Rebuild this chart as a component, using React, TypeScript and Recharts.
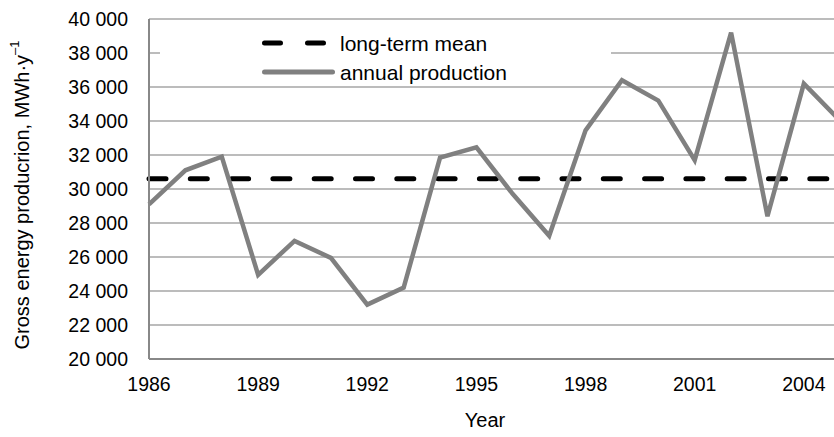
import { LineChart, Line, XAxis, YAxis, CartesianGrid, Legend } from 'recharts'

const YEARS = [
  1986, 1987, 1988, 1989, 1990, 1991, 1992, 1993, 1994, 1995,
  1996, 1997, 1998, 1999, 2000, 2001, 2002, 2003, 2004, 2005,
]
const PRODUCTION = [
  29100, 31100, 31900, 24950, 26950, 25950, 23200, 24200, 31850, 32450,
  29700, 27250, 33450, 36400, 35200, 31700, 39200, 28400, 36200, 34000,
]
const LONG_TERM_MEAN = 30600
const X_TICKS = [1986, 1989, 1992, 1995, 1998, 2001, 2004]
const Y_TICKS = [20000, 22000, 24000, 26000, 28000, 30000, 32000, 34000, 36000, 38000, 40000]
const LEGEND_MEAN = 'long-term mean'
const LEGEND_PRODUCTION = 'annual production'

const FONT = '"Liberation Sans", Arial, sans-serif'
const GREY = '#808080'

const dados = YEARS.map((year, i) => ({
  year,
  production: PRODUCTION[i],
  mean: LONG_TERM_MEAN,
}))

const fmtThousands = (v: number) =>
  `${Math.floor(v / 1000)} ${String(v % 1000).padStart(3, '0')}`

// legend sits on a white box over the top gridlines, like the original
function LegendBox() {
  return (
    <svg width={451} height={56} style={{ display: 'block', background: '#fff' }}>
      <line x1={104.5} y1={13} x2={163.5} y2={13} stroke="#000" strokeWidth={5}
        strokeDasharray="16 27" strokeLinecap="round" />
      <text x={180} y={13} dominantBaseline="central" fontSize={21} fontFamily={FONT} fill="#000">
        {LEGEND_MEAN}
      </text>
      <line x1={104.5} y1={42} x2={172.5} y2={42} stroke={GREY} strokeWidth={5} strokeLinecap="round" />
      <text x={180} y={42} dominantBaseline="central" fontSize={21} fontFamily={FONT} fill="#000">
        {LEGEND_PRODUCTION}
      </text>
    </svg>
  )
}

export default function App() {
  return (
    <div
      style={{
        position: 'absolute',
        left: 0,
        top: 0,
        width: 834,
        height: 437,
        overflow: 'hidden',
        background: '#fff',
      }}
    >
      <LineChart width={914} height={437} data={dados} margin={{ top: 19, right: 1, bottom: 0, left: 0 }}>
        <CartesianGrid vertical={false} stroke="#a6a6a6" strokeWidth={1.5} />
        <XAxis
          dataKey="year"
          type="number"
          domain={[1986, 2007]}
          ticks={X_TICKS}
          height={78}
          tickLine={false}
          tickSize={0}
          tickMargin={18}
          axisLine={{ stroke: '#888', strokeWidth: 2 }}
          tick={{ fontSize: 19.5, fontFamily: FONT, fill: '#000' }}
          interval={0}
        />
        <YAxis
          type="number"
          domain={[20000, 40000]}
          ticks={Y_TICKS}
          width={149}
          tickLine={false}
          tickSize={0}
          tickMargin={21}
          axisLine={{ stroke: '#888', strokeWidth: 2 }}
          tick={{ fontSize: 19.5, fontFamily: FONT, fill: '#000' }}
          tickFormatter={fmtThousands}
          interval={0}
        />
        <Legend
          layout="vertical"
          align="center"
          verticalAlign="middle"
          content={() => <LegendBox />}
          wrapperStyle={{ left: 160, top: 30, width: 451, height: 56 }}
        />
        <Line
          dataKey="mean"
          stroke="#000"
          strokeWidth={5}
          strokeDasharray="17 24.3"
          strokeLinecap="round"
          dot={false}
          isAnimationActive={false}
        />
        <Line
          dataKey="production"
          stroke={GREY}
          strokeWidth={4.5}
          strokeLinejoin="miter"
          dot={false}
          isAnimationActive={false}
        />
      </LineChart>
      <svg width={834} height={437} style={{ position: 'absolute', left: 0, top: 0, pointerEvents: 'none' }}>
        <text
          x={22}
          y={195}
          transform="rotate(-90 22 195)"
          textAnchor="middle"
          dominantBaseline="central"
          fontSize={20}
          fontFamily={FONT}
          fill="#000"
        >
          Gross energy producrion, MWh·y<tspan dy={-8} fontSize={13}>–1</tspan>
        </text>
        <text x={485} y={420} textAnchor="middle" dominantBaseline="central" fontSize={20} fontFamily={FONT} fill="#000">
          Year
        </text>
      </svg>
    </div>
  )
}
